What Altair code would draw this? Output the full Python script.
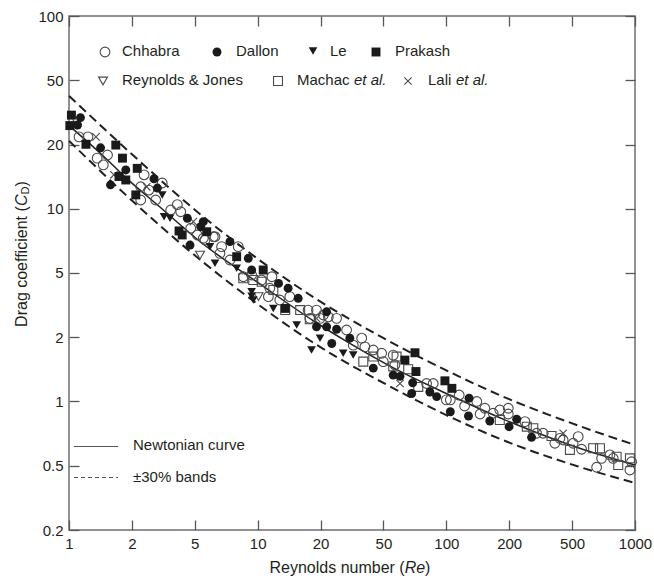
import altair as alt
import pandas as pd

FONT = "Liberation Sans"
INK = "#231f20"
GREY = "#6d6e71"

# Axis ticks: one third of a decade apart, labelled with rounded values
x_ticks = [1, 2.154, 4.642, 10, 21.54, 46.42, 100, 215.4, 464.2, 1000]
y_ticks = [0.2154, 0.4642, 1, 2.154, 4.642, 10, 21.54, 46.42, 100]

# Newtonian curve and +-30% bands
curve_re = [1, 1.5, 2, 3, 5, 10, 20, 30, 50, 100, 200, 300, 500, 1000]
newton_cd = [27.0, 19.0, 14.5, 10.3, 6.7, 4.15, 2.6, 2.03, 1.53, 1.1, 0.81, 0.69, 0.575, 0.468]
band_re = [1, 2, 5, 10, 20, 50, 100, 200, 500, 1000]
upper_cd = [38.5, 20.5, 9.3, 5.5, 3.45, 2.05, 1.45, 1.06, 0.75, 0.595]
lower_cd = [22.5, 11.8, 5.4, 3.2, 2.0, 1.2, 0.85, 0.63, 0.46, 0.378]

# Experimental data
chhabra_re = [1.13, 1.26, 1.41, 1.60, 1.52, 2.50, 2.40, 2.65, 3.12, 2.40, 2.88, 3.46, 3.91, 3.75, 4.42,
              4.79, 5.26, 5.94, 6.44, 6.31, 7.13, 7.89, 8.39, 9.29, 10.5, 11.9, 11.4, 11.6, 13.1, 14.8,
              18.5, 20.5, 22.3, 18.9, 21.4, 23.7, 26.2, 29.6, 35.6, 32.1, 37.0, 41.0, 45.4, 46.3, 52.3,
              53.4, 78.6, 85.2, 100, 105, 117, 125, 145, 151, 160, 177, 192, 213, 213, 261,
              301, 326, 376, 400, 500, 470, 521, 626, 665, 736, 766, 940, 959, 416, 5.15, 5.82]
chhabra_cd = [23.6, 23.6, 18.3, 19.0, 16.9, 15.0, 13.0, 12.5, 13.6, 11.1, 11.1, 9.85, 9.65, 10.5, 7.92,
              7.31, 6.89, 7.16, 6.36, 5.87, 5.42, 6.36, 4.44, 4.53, 4.27, 4.44, 3.50, 3.87, 3.36, 3.50,
              2.98, 2.98, 2.81, 2.70, 2.70, 2.75, 2.70, 2.35, 2.13, 1.96, 1.92, 1.85, 1.78, 1.61, 1.74,
              1.55, 1.24, 1.24, 1.02, 1.02, 1.08, 0.948, 1.00, 0.861, 0.922, 0.869, 0.903, 0.922, 0.861, 0.786,
              0.684, 0.684, 0.607, 0.644, 0.657, 0.607, 0.565, 0.456, 0.507, 0.528, 0.507, 0.441, 0.487, 0.631, 7.03, 7.16]

dallon_re = [1.15, 1.11, 1.47, 2.00, 2.82, 1.66, 2.94, 4.24, 4.99, 5.15, 4.38, 7.13, 8.92, 9.29, 12.9,
             14.5, 16.4, 20.5, 23.2, 23.2, 26.2, 24.7, 30.8, 41.0, 52.3, 56.8, 65.5, 81.8, 88.9, 105,
             66.3, 132, 131, 170, 215, 236, 283]
dallon_cd = [29.7, 27.2, 20.7, 15.9, 14.3, 13.3, 12.8, 8.92, 8.07, 8.57, 6.48, 6.75, 5.53, 4.81, 4.10,
             3.87, 3.43, 2.44, 2.44, 2.92, 2.37, 2.00, 2.13, 1.49, 1.37, 1.35, 1.10, 1.12, 1.06, 0.885,
             1.25, 1.04, 0.841, 0.792, 0.740, 0.809, 0.652]

le_re = [1.10, 3.19, 3.12, 3.43, 5.59, 5.94, 7.74, 9.29, 9.29, 9.48, 12.1, 16.1, 21.4, 19.3, 28.4, 32.1]
le_cd = [26.9, 9.09, 11.8, 8.92, 6.36, 5.21, 4.91, 3.71, 3.52, 3.36, 3.04, 2.49, 2.13, 1.85, 1.78, 1.74]

prakash_re = [1.03, 1.01, 1.23, 1.77, 1.92, 2.30, 2.00, 1.84, 2.26, 3.83, 3.98, 5.37, 7.74, 10.7, 14.0,
              68.2, 60.3, 69.0, 98.3, 107]
prakash_cd = [30.6, 27.0, 21.6, 21.4, 18.3, 16.2, 14.1, 14.7, 11.8, 7.67, 7.31, 7.60, 5.64, 4.81, 3.04,
              1.79, 1.64, 1.43, 1.28, 1.17]

rj_re = [4.95, 10.1]
rj_cd = [5.75, 3.50]

machac_re = [8.39, 9.48, 10.5, 12.1, 14.0, 16.8, 18.9, 36.3, 41.0, 54.5, 62.8, 71.0, 52.3, 192, 267,
             289, 361, 452, 600, 652, 799, 815, 940]
machac_cd = [4.36, 4.27, 4.18, 3.79, 2.98, 2.98, 2.67, 1.61, 1.71, 1.71, 1.47, 1.19, 1.52, 0.802, 0.740,
             0.726, 0.662, 0.561, 0.572, 0.572, 0.517, 0.468, 0.507]

lali_re = [1.09, 1.39, 1.73, 2.58, 4.56, 20.5, 56.8, 416]
lali_cd = [27.8, 23.6, 15.0, 13.0, 8.57, 2.70, 1.24, 0.684]

XSHAPE = "M-1,-1L1,1M-1,1L1,-1"

xscale = alt.Scale(type="log", domain=[1, 1000], nice=False)
yscale = alt.Scale(type="log", domain=[0.2154, 100], nice=False)

common_axis = dict(domain=False, grid=False, tickSize=10, offset=-10, tickColor="#555759", tickWidth=1.3,
                   labelFont=FONT, labelFontSize=15, labelColor=INK, labelOverlap=False,
                   labelFlush=False, title=None)
ax_bottom = alt.Axis(orient="bottom", values=x_ticks, format=".1r", labelPadding=6, **common_axis)
ax_left = alt.Axis(orient="left", values=y_ticks, format=".1r", labelPadding=6, **common_axis)
ax_top = alt.Axis(orient="top", values=x_ticks, labels=False, **common_axis)
ax_right = alt.Axis(orient="right", values=y_ticks, labels=False, **common_axis)


def df(xs, ys):
    return pd.DataFrame({"Re": xs, "Cd": ys})


def enc(xaxis=None, yaxis=None):
    return dict(x=alt.X("Re:Q", scale=xscale, axis=xaxis),
                y=alt.Y("Cd:Q", scale=yscale, axis=yaxis))


upper = alt.Chart(df(band_re, upper_cd)).mark_line(
    color=INK, strokeWidth=2, strokeDash=[9, 5], interpolate="monotone"
).encode(**enc(ax_bottom, ax_left))
lower = alt.Chart(df(band_re, lower_cd)).mark_line(
    color=INK, strokeWidth=2, strokeDash=[9, 5], interpolate="monotone"
).encode(**enc(ax_top, ax_right))
newton = alt.Chart(df(curve_re, newton_cd)).mark_line(
    color=INK, strokeWidth=1.5, interpolate="monotone"
).encode(**enc())

styles = {
    "chhabra": dict(shape="circle", filled=False, size=95, stroke="#4a4a4a", strokeWidth=1.1),
    "dallon": dict(shape="circle", filled=True, size=80, color="#1a1a1a"),
    "le": dict(shape="triangle-down", filled=True, size=75, color="#1a1a1a"),
    "prakash": dict(shape="square", filled=True, size=80, color="#1a1a1a"),
    "rj": dict(shape="triangle-down", filled=False, size=80, stroke="#4a4a4a", strokeWidth=1.1),
    "machac": dict(shape="square", filled=False, size=80, stroke="#4a4a4a", strokeWidth=1.1),
    "lali": dict(shape=XSHAPE, filled=False, size=55, stroke="#4a4a4a", strokeWidth=1.1),
}
series = {
    "chhabra": (chhabra_re, chhabra_cd),
    "dallon": (dallon_re, dallon_cd),
    "le": (le_re, le_cd),
    "prakash": (prakash_re, prakash_cd),
    "rj": (rj_re, rj_cd),
    "machac": (machac_re, machac_cd),
    "lali": (lali_re, lali_cd),
}
scatter = [alt.Chart(df(*series[k])).mark_point(opacity=1, **styles[k]).encode(**enc())
           for k in ["machac", "chhabra", "rj", "lali", "dallon", "le", "prakash"]]

one = pd.DataFrame({"t": [""]})


def label(text, x, y, size=15, style="normal", angle=0, align="left"):
    return alt.Chart(pd.DataFrame({"t": [text]})).mark_text(
        align=align, baseline="middle", font=FONT, fontSize=size, fontStyle=style,
        color=INK, angle=angle
    ).encode(x=alt.value(x), y=alt.value(y), text="t:N")


def marker(key, x, y):
    return alt.Chart(one).mark_point(opacity=1, **styles[key]).encode(x=alt.value(x), y=alt.value(y))


legend = [
    marker("chhabra", 36, 36), label("Chhabra", 53, 35),
    marker("dallon", 148, 36), label("Dallon", 167, 35),
    marker("le", 244, 35), label("Le", 261, 35),
    marker("prakash", 307, 36), label("Prakash", 326, 35),
    marker("rj", 34, 65), label("Reynolds & Jones", 53, 64),
    marker("machac", 209, 65), label("Machac", 228, 64), label("et al.", 285, 64, style="italic"),
    marker("lali", 339, 65), label("Lali", 359, 64), label("et al.", 387, 64, style="italic"),
    alt.Chart(one).mark_rule(color="#555555", strokeWidth=1).encode(
        x=alt.value(5), x2=alt.value(49), y=alt.value(430.5)),
    label("Newtonian curve", 64, 429),
    alt.Chart(one).mark_rule(color="#555555", strokeWidth=1, strokeDash=[4, 3]).encode(
        x=alt.value(5), x2=alt.value(49), y=alt.value(461.5)),
    label("\u00b130% bands", 64, 461),
]

titles = [
    label("Reynolds number (", 200.5, 552, size=16),
    label("Re", 335.7, 552, size=16, style="italic"),
    label(")", 356.1, 552, size=16),
    label("Drag coefficient (", -47, 310.9, size=16, angle=270),
    label("C", -47, 190, size=16, style="italic", angle=270),
    label("D", -43, 178.4, size=11, angle=270),
    label(")", -47, 170.5, size=16, angle=270),
]

chart = alt.layer(upper, lower, newton, *scatter, *legend, *titles).resolve_axis(
    x="independent", y="independent"
).properties(
    width=566, height=514,
    autosize=alt.AutoSizeParams(type="none"),
    padding={"left": 69, "top": 16, "right": 19, "bottom": 49},
).configure_view(stroke=GREY, strokeWidth=1.5)

chart.save("out.html", embed_options={"renderer": "svg", "actions": False})
